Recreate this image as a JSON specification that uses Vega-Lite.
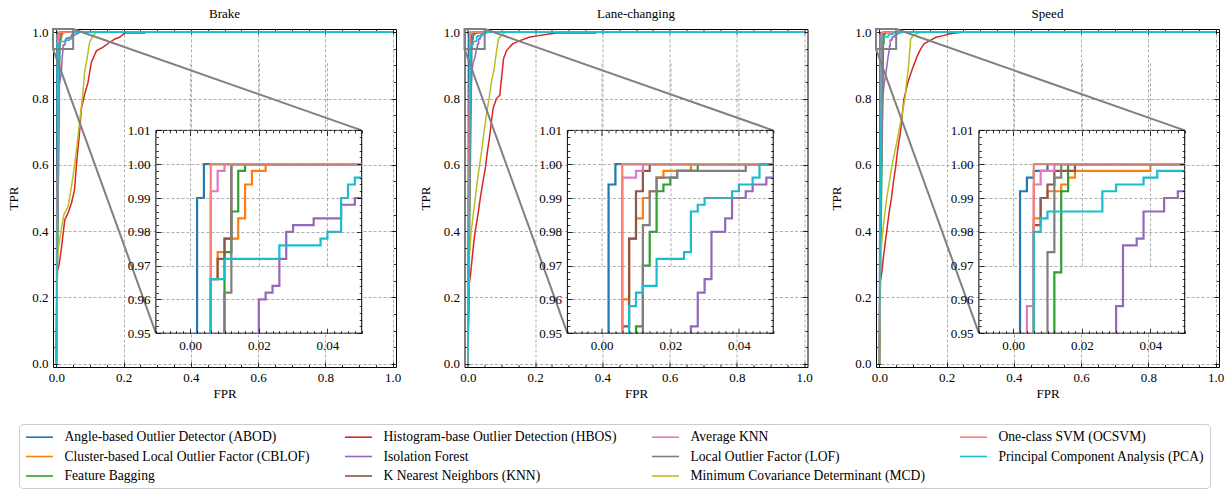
{
"$schema": "https://vega.github.io/schema/vega-lite/v6.json",
"background": "white",
"padding": {"left": 7, "top": 7, "right": 0, "bottom": 0},
"spacing": 16.5,
"config": {
  "view": {"stroke": "black", "strokeWidth": 1},
  "font": "Liberation Serif",
  "axis": {"labelFont": "Liberation Serif", "titleFont": "Liberation Serif", "labelFontSize": 13, "titleFontSize": 13, "titleFontWeight": "normal", "labelColor": "black", "titleColor": "black", "tickColor": "black", "tickWidth": 0.8, "domain": false, "labelOverlap": false, "labelFlush": false, "labelBound": false, "gridDash": [3, 2], "gridColor": "#8c8c8c", "gridWidth": 0.7},
  "title": {"font": "Liberation Serif", "fontSize": 13, "fontWeight": "normal", "color": "black", "offset": 5},
  "legend": {"orient": "none", "legendX": -34, "legendY": 395, "columns": 4, "direction": "vertical", "symbolType": "M-1.93,0H1.93", "symbolSize": 196, "symbolStrokeWidth": 1.6, "symbolFillColor": "transparent", "symbolOffset": 7.5, "labelFont": "Liberation Serif", "labelFontSize": 13.6, "labelColor": "black", "labelLimit": 600, "labelOffset": 17, "columnPadding": 31, "rowPadding": 4.5, "strokeColor": "#cccccc", "fillColor": "white", "cornerRadius": 4, "padding": 5}
},
"datasets": {
  "methods": [
    {"m": "ABOD", "name": "Angle-based Outlier Detector (ABOD)"},
    {"m": "CBLOF", "name": "Cluster-based Local Outlier Factor (CBLOF)"},
    {"m": "FB", "name": "Feature Bagging"},
    {"m": "HBOS", "name": "Histogram-base Outlier Detection (HBOS)"},
    {"m": "IF", "name": "Isolation Forest"},
    {"m": "KNN", "name": "K Nearest Neighbors (KNN)"},
    {"m": "AKNN", "name": "Average KNN"},
    {"m": "LOF", "name": "Local Outlier Factor (LOF)"},
    {"m": "MCD", "name": "Minimum Covariance Determinant (MCD)"},
    {"m": "OCSVM", "name": "One-class SVM (OCSVM)"},
    {"m": "PCA", "name": "Principal Component Analysis (PCA)"}
  ],
  "box": [{"x0": -0.01, "x1": 0.05, "y0": 0.95, "y1": 1.01}],
  "conn": [{"x0": 0.05, "y0": 1.01, "x1": 0.908, "y1": 0.704}, {"x0": -0.01, "y0": 0.95, "x1": 0.296, "y1": 0.092}],
  "roc": [
{"p":"B","m":"ABOD","x":0,"y":0},{"p":"B","m":"ABOD","x":0.002,"y":0.95},{"p":"B","m":"ABOD","x":0.002,"y":0.99},{"p":"B","m":"ABOD","x":0.004,"y":0.99},{"p":"B","m":"ABOD","x":0.004,"y":1},{"p":"B","m":"ABOD","x":0.05,"y":1},{"p":"B","m":"ABOD","x":1,"y":1},
{"p":"B","m":"CBLOF","x":0,"y":0},{"p":"B","m":"CBLOF","x":0.006,"y":0.95},{"p":"B","m":"CBLOF","x":0.006,"y":0.966},{"p":"B","m":"CBLOF","x":0.008,"y":0.966},{"p":"B","m":"CBLOF","x":0.008,"y":0.974},{"p":"B","m":"CBLOF","x":0.01,"y":0.974},{"p":"B","m":"CBLOF","x":0.01,"y":0.978},{"p":"B","m":"CBLOF","x":0.014,"y":0.978},{"p":"B","m":"CBLOF","x":0.014,"y":0.984},{"p":"B","m":"CBLOF","x":0.016,"y":0.984},{"p":"B","m":"CBLOF","x":0.016,"y":0.994},{"p":"B","m":"CBLOF","x":0.018,"y":0.994},{"p":"B","m":"CBLOF","x":0.018,"y":0.998},{"p":"B","m":"CBLOF","x":0.022,"y":0.998},{"p":"B","m":"CBLOF","x":0.022,"y":1},{"p":"B","m":"CBLOF","x":0.05,"y":1},{"p":"B","m":"CBLOF","x":1,"y":1},
{"p":"B","m":"FB","x":0,"y":0},{"p":"B","m":"FB","x":0.01,"y":0.95},{"p":"B","m":"FB","x":0.01,"y":0.974},{"p":"B","m":"FB","x":0.012,"y":0.974},{"p":"B","m":"FB","x":0.012,"y":0.986},{"p":"B","m":"FB","x":0.014,"y":0.986},{"p":"B","m":"FB","x":0.014,"y":0.998},{"p":"B","m":"FB","x":0.016,"y":0.998},{"p":"B","m":"FB","x":0.016,"y":1},{"p":"B","m":"FB","x":0.05,"y":1},{"p":"B","m":"FB","x":1,"y":1},
{"p":"B","m":"HBOS","x":0,"y":0},{"p":"B","m":"HBOS","x":0.003,"y":0.28},{"p":"B","m":"HBOS","x":0.008,"y":0.298},{"p":"B","m":"HBOS","x":0.015,"y":0.348},{"p":"B","m":"HBOS","x":0.025,"y":0.434},{"p":"B","m":"HBOS","x":0.035,"y":0.455},{"p":"B","m":"HBOS","x":0.045,"y":0.485},{"p":"B","m":"HBOS","x":0.054,"y":0.525},{"p":"B","m":"HBOS","x":0.061,"y":0.616},{"p":"B","m":"HBOS","x":0.069,"y":0.697},{"p":"B","m":"HBOS","x":0.074,"y":0.768},{"p":"B","m":"HBOS","x":0.084,"y":0.813},{"p":"B","m":"HBOS","x":0.094,"y":0.848},{"p":"B","m":"HBOS","x":0.104,"y":0.909},{"p":"B","m":"HBOS","x":0.119,"y":0.944},{"p":"B","m":"HBOS","x":0.139,"y":0.955},{"p":"B","m":"HBOS","x":0.159,"y":0.97},{"p":"B","m":"HBOS","x":0.174,"y":0.98},{"p":"B","m":"HBOS","x":0.188,"y":0.985},{"p":"B","m":"HBOS","x":0.203,"y":0.998},{"p":"B","m":"HBOS","x":0.263,"y":0.998},{"p":"B","m":"HBOS","x":0.263,"y":1},{"p":"B","m":"HBOS","x":1,"y":1},
{"p":"B","m":"IF","x":0,"y":0},{"p":"B","m":"IF","x":0.004,"y":0.6},{"p":"B","m":"IF","x":0.008,"y":0.84},{"p":"B","m":"IF","x":0.012,"y":0.86},{"p":"B","m":"IF","x":0.015,"y":0.88},{"p":"B","m":"IF","x":0.017,"y":0.92},{"p":"B","m":"IF","x":0.02,"y":0.95},{"p":"B","m":"IF","x":0.02,"y":0.96},{"p":"B","m":"IF","x":0.022,"y":0.96},{"p":"B","m":"IF","x":0.022,"y":0.962},{"p":"B","m":"IF","x":0.024,"y":0.962},{"p":"B","m":"IF","x":0.024,"y":0.964},{"p":"B","m":"IF","x":0.026,"y":0.964},{"p":"B","m":"IF","x":0.026,"y":0.972},{"p":"B","m":"IF","x":0.028,"y":0.972},{"p":"B","m":"IF","x":0.028,"y":0.98},{"p":"B","m":"IF","x":0.03,"y":0.98},{"p":"B","m":"IF","x":0.03,"y":0.982},{"p":"B","m":"IF","x":0.036,"y":0.982},{"p":"B","m":"IF","x":0.036,"y":0.984},{"p":"B","m":"IF","x":0.044,"y":0.984},{"p":"B","m":"IF","x":0.044,"y":0.988},{"p":"B","m":"IF","x":0.048,"y":0.988},{"p":"B","m":"IF","x":0.048,"y":0.99},{"p":"B","m":"IF","x":0.05,"y":0.99},{"p":"B","m":"IF","x":0.06,"y":0.995},{"p":"B","m":"IF","x":0.07,"y":1},{"p":"B","m":"IF","x":1,"y":1},
{"p":"B","m":"KNN","x":0,"y":0},{"p":"B","m":"KNN","x":0.006,"y":0.95},{"p":"B","m":"KNN","x":0.006,"y":0.966},{"p":"B","m":"KNN","x":0.008,"y":0.966},{"p":"B","m":"KNN","x":0.008,"y":0.972},{"p":"B","m":"KNN","x":0.01,"y":0.972},{"p":"B","m":"KNN","x":0.01,"y":0.978},{"p":"B","m":"KNN","x":0.012,"y":0.978},{"p":"B","m":"KNN","x":0.012,"y":1},{"p":"B","m":"KNN","x":0.05,"y":1},{"p":"B","m":"KNN","x":1,"y":1},
{"p":"B","m":"AKNN","x":0,"y":0},{"p":"B","m":"AKNN","x":0.006,"y":0.95},{"p":"B","m":"AKNN","x":0.006,"y":0.992},{"p":"B","m":"AKNN","x":0.008,"y":0.992},{"p":"B","m":"AKNN","x":0.008,"y":0.998},{"p":"B","m":"AKNN","x":0.01,"y":0.998},{"p":"B","m":"AKNN","x":0.01,"y":1},{"p":"B","m":"AKNN","x":0.05,"y":1},{"p":"B","m":"AKNN","x":1,"y":1},
{"p":"B","m":"LOF","x":0,"y":0},{"p":"B","m":"LOF","x":0.01,"y":0.95},{"p":"B","m":"LOF","x":0.01,"y":0.962},{"p":"B","m":"LOF","x":0.012,"y":0.962},{"p":"B","m":"LOF","x":0.012,"y":1},{"p":"B","m":"LOF","x":0.05,"y":1},{"p":"B","m":"LOF","x":1,"y":1},
{"p":"B","m":"MCD","x":0,"y":0},{"p":"B","m":"MCD","x":0.003,"y":0.33},{"p":"B","m":"MCD","x":0.005,"y":0.343},{"p":"B","m":"MCD","x":0.013,"y":0.394},{"p":"B","m":"MCD","x":0.022,"y":0.449},{"p":"B","m":"MCD","x":0.035,"y":0.475},{"p":"B","m":"MCD","x":0.045,"y":0.535},{"p":"B","m":"MCD","x":0.054,"y":0.596},{"p":"B","m":"MCD","x":0.061,"y":0.656},{"p":"B","m":"MCD","x":0.069,"y":0.727},{"p":"B","m":"MCD","x":0.077,"y":0.798},{"p":"B","m":"MCD","x":0.084,"y":0.879},{"p":"B","m":"MCD","x":0.091,"y":0.919},{"p":"B","m":"MCD","x":0.099,"y":0.97},{"p":"B","m":"MCD","x":0.109,"y":0.99},{"p":"B","m":"MCD","x":0.119,"y":1},{"p":"B","m":"MCD","x":1,"y":1},
{"p":"B","m":"OCSVM","x":0,"y":0},{"p":"B","m":"OCSVM","x":0.006,"y":0.95},{"p":"B","m":"OCSVM","x":0.006,"y":1},{"p":"B","m":"OCSVM","x":0.05,"y":1},{"p":"B","m":"OCSVM","x":1,"y":1},
{"p":"B","m":"PCA","x":0,"y":0},{"p":"B","m":"PCA","x":0.006,"y":0.95},{"p":"B","m":"PCA","x":0.006,"y":0.966},{"p":"B","m":"PCA","x":0.01,"y":0.966},{"p":"B","m":"PCA","x":0.01,"y":0.972},{"p":"B","m":"PCA","x":0.026,"y":0.972},{"p":"B","m":"PCA","x":0.026,"y":0.976},{"p":"B","m":"PCA","x":0.038,"y":0.976},{"p":"B","m":"PCA","x":0.038,"y":0.978},{"p":"B","m":"PCA","x":0.04,"y":0.978},{"p":"B","m":"PCA","x":0.04,"y":0.98},{"p":"B","m":"PCA","x":0.044,"y":0.98},{"p":"B","m":"PCA","x":0.044,"y":0.99},{"p":"B","m":"PCA","x":0.046,"y":0.99},{"p":"B","m":"PCA","x":0.046,"y":0.994},{"p":"B","m":"PCA","x":0.048,"y":0.994},{"p":"B","m":"PCA","x":0.048,"y":0.996},{"p":"B","m":"PCA","x":0.05,"y":0.996},{"p":"B","m":"PCA","x":0.055,"y":1},{"p":"B","m":"PCA","x":1,"y":1},

{"p":"L","m":"ABOD","x":0,"y":0},{"p":"L","m":"ABOD","x":0.002,"y":0.95},{"p":"L","m":"ABOD","x":0.002,"y":0.994},{"p":"L","m":"ABOD","x":0.004,"y":0.994},{"p":"L","m":"ABOD","x":0.004,"y":1},{"p":"L","m":"ABOD","x":0.05,"y":1},{"p":"L","m":"ABOD","x":1,"y":1},
{"p":"L","m":"CBLOF","x":0,"y":0},{"p":"L","m":"CBLOF","x":0.006,"y":0.95},{"p":"L","m":"CBLOF","x":0.006,"y":0.96},{"p":"L","m":"CBLOF","x":0.008,"y":0.96},{"p":"L","m":"CBLOF","x":0.008,"y":0.978},{"p":"L","m":"CBLOF","x":0.01,"y":0.978},{"p":"L","m":"CBLOF","x":0.01,"y":0.984},{"p":"L","m":"CBLOF","x":0.012,"y":0.984},{"p":"L","m":"CBLOF","x":0.012,"y":0.99},{"p":"L","m":"CBLOF","x":0.014,"y":0.99},{"p":"L","m":"CBLOF","x":0.014,"y":0.992},{"p":"L","m":"CBLOF","x":0.016,"y":0.992},{"p":"L","m":"CBLOF","x":0.016,"y":0.996},{"p":"L","m":"CBLOF","x":0.018,"y":0.996},{"p":"L","m":"CBLOF","x":0.018,"y":0.998},{"p":"L","m":"CBLOF","x":0.026,"y":0.998},{"p":"L","m":"CBLOF","x":0.026,"y":1},{"p":"L","m":"CBLOF","x":0.05,"y":1},{"p":"L","m":"CBLOF","x":1,"y":1},
{"p":"L","m":"FB","x":0,"y":0},{"p":"L","m":"FB","x":0.01,"y":0.95},{"p":"L","m":"FB","x":0.01,"y":0.952},{"p":"L","m":"FB","x":0.012,"y":0.952},{"p":"L","m":"FB","x":0.012,"y":0.97},{"p":"L","m":"FB","x":0.014,"y":0.97},{"p":"L","m":"FB","x":0.014,"y":0.98},{"p":"L","m":"FB","x":0.016,"y":0.98},{"p":"L","m":"FB","x":0.016,"y":0.992},{"p":"L","m":"FB","x":0.018,"y":0.992},{"p":"L","m":"FB","x":0.018,"y":0.994},{"p":"L","m":"FB","x":0.02,"y":0.994},{"p":"L","m":"FB","x":0.02,"y":0.996},{"p":"L","m":"FB","x":0.022,"y":0.996},{"p":"L","m":"FB","x":0.022,"y":0.998},{"p":"L","m":"FB","x":0.028,"y":0.998},{"p":"L","m":"FB","x":0.028,"y":1},{"p":"L","m":"FB","x":0.05,"y":1},{"p":"L","m":"FB","x":1,"y":1},
{"p":"L","m":"HBOS","x":0,"y":0},{"p":"L","m":"HBOS","x":0.004,"y":0.24},{"p":"L","m":"HBOS","x":0.008,"y":0.27},{"p":"L","m":"HBOS","x":0.012,"y":0.31},{"p":"L","m":"HBOS","x":0.018,"y":0.37},{"p":"L","m":"HBOS","x":0.022,"y":0.4},{"p":"L","m":"HBOS","x":0.03,"y":0.45},{"p":"L","m":"HBOS","x":0.037,"y":0.5},{"p":"L","m":"HBOS","x":0.045,"y":0.55},{"p":"L","m":"HBOS","x":0.052,"y":0.59},{"p":"L","m":"HBOS","x":0.058,"y":0.64},{"p":"L","m":"HBOS","x":0.064,"y":0.68},{"p":"L","m":"HBOS","x":0.07,"y":0.73},{"p":"L","m":"HBOS","x":0.075,"y":0.77},{"p":"L","m":"HBOS","x":0.085,"y":0.8},{"p":"L","m":"HBOS","x":0.095,"y":0.81},{"p":"L","m":"HBOS","x":0.1,"y":0.86},{"p":"L","m":"HBOS","x":0.106,"y":0.92},{"p":"L","m":"HBOS","x":0.115,"y":0.945},{"p":"L","m":"HBOS","x":0.133,"y":0.965},{"p":"L","m":"HBOS","x":0.155,"y":0.975},{"p":"L","m":"HBOS","x":0.182,"y":0.985},{"p":"L","m":"HBOS","x":0.21,"y":0.99},{"p":"L","m":"HBOS","x":0.242,"y":0.995},{"p":"L","m":"HBOS","x":0.262,"y":0.998},{"p":"L","m":"HBOS","x":0.38,"y":0.998},{"p":"L","m":"HBOS","x":0.38,"y":1},{"p":"L","m":"HBOS","x":1,"y":1},
{"p":"L","m":"IF","x":0,"y":0},{"p":"L","m":"IF","x":0.004,"y":0.5},{"p":"L","m":"IF","x":0.008,"y":0.8},{"p":"L","m":"IF","x":0.012,"y":0.88},{"p":"L","m":"IF","x":0.016,"y":0.91},{"p":"L","m":"IF","x":0.02,"y":0.92},{"p":"L","m":"IF","x":0.024,"y":0.94},{"p":"L","m":"IF","x":0.026,"y":0.95},{"p":"L","m":"IF","x":0.026,"y":0.952},{"p":"L","m":"IF","x":0.028,"y":0.952},{"p":"L","m":"IF","x":0.028,"y":0.962},{"p":"L","m":"IF","x":0.03,"y":0.962},{"p":"L","m":"IF","x":0.03,"y":0.966},{"p":"L","m":"IF","x":0.032,"y":0.966},{"p":"L","m":"IF","x":0.032,"y":0.98},{"p":"L","m":"IF","x":0.036,"y":0.98},{"p":"L","m":"IF","x":0.036,"y":0.984},{"p":"L","m":"IF","x":0.038,"y":0.984},{"p":"L","m":"IF","x":0.038,"y":0.99},{"p":"L","m":"IF","x":0.042,"y":0.99},{"p":"L","m":"IF","x":0.042,"y":0.992},{"p":"L","m":"IF","x":0.044,"y":0.992},{"p":"L","m":"IF","x":0.044,"y":0.994},{"p":"L","m":"IF","x":0.048,"y":0.994},{"p":"L","m":"IF","x":0.048,"y":0.996},{"p":"L","m":"IF","x":0.05,"y":0.996},{"p":"L","m":"IF","x":0.06,"y":1},{"p":"L","m":"IF","x":1,"y":1},
{"p":"L","m":"KNN","x":0,"y":0},{"p":"L","m":"KNN","x":0.006,"y":0.95},{"p":"L","m":"KNN","x":0.006,"y":0.952},{"p":"L","m":"KNN","x":0.008,"y":0.952},{"p":"L","m":"KNN","x":0.008,"y":0.978},{"p":"L","m":"KNN","x":0.01,"y":0.978},{"p":"L","m":"KNN","x":0.01,"y":0.992},{"p":"L","m":"KNN","x":0.012,"y":0.992},{"p":"L","m":"KNN","x":0.012,"y":0.998},{"p":"L","m":"KNN","x":0.014,"y":0.998},{"p":"L","m":"KNN","x":0.014,"y":1},{"p":"L","m":"KNN","x":0.05,"y":1},{"p":"L","m":"KNN","x":1,"y":1},
{"p":"L","m":"AKNN","x":0,"y":0},{"p":"L","m":"AKNN","x":0.006,"y":0.95},{"p":"L","m":"AKNN","x":0.006,"y":0.996},{"p":"L","m":"AKNN","x":0.01,"y":0.996},{"p":"L","m":"AKNN","x":0.01,"y":0.998},{"p":"L","m":"AKNN","x":0.012,"y":0.998},{"p":"L","m":"AKNN","x":0.012,"y":1},{"p":"L","m":"AKNN","x":0.05,"y":1},{"p":"L","m":"AKNN","x":1,"y":1},
{"p":"L","m":"LOF","x":0,"y":0},{"p":"L","m":"LOF","x":0.012,"y":0.95},{"p":"L","m":"LOF","x":0.012,"y":0.982},{"p":"L","m":"LOF","x":0.014,"y":0.982},{"p":"L","m":"LOF","x":0.014,"y":0.992},{"p":"L","m":"LOF","x":0.016,"y":0.992},{"p":"L","m":"LOF","x":0.016,"y":0.996},{"p":"L","m":"LOF","x":0.022,"y":0.996},{"p":"L","m":"LOF","x":0.022,"y":0.998},{"p":"L","m":"LOF","x":0.042,"y":0.998},{"p":"L","m":"LOF","x":0.042,"y":1},{"p":"L","m":"LOF","x":0.05,"y":1},{"p":"L","m":"LOF","x":1,"y":1},
{"p":"L","m":"MCD","x":0,"y":0},{"p":"L","m":"MCD","x":0.003,"y":0.32},{"p":"L","m":"MCD","x":0.006,"y":0.34},{"p":"L","m":"MCD","x":0.01,"y":0.4},{"p":"L","m":"MCD","x":0.016,"y":0.45},{"p":"L","m":"MCD","x":0.022,"y":0.5},{"p":"L","m":"MCD","x":0.028,"y":0.55},{"p":"L","m":"MCD","x":0.035,"y":0.6},{"p":"L","m":"MCD","x":0.042,"y":0.65},{"p":"L","m":"MCD","x":0.048,"y":0.7},{"p":"L","m":"MCD","x":0.055,"y":0.75},{"p":"L","m":"MCD","x":0.063,"y":0.8},{"p":"L","m":"MCD","x":0.07,"y":0.85},{"p":"L","m":"MCD","x":0.078,"y":0.889},{"p":"L","m":"MCD","x":0.085,"y":0.94},{"p":"L","m":"MCD","x":0.091,"y":0.98},{"p":"L","m":"MCD","x":0.1,"y":0.99},{"p":"L","m":"MCD","x":0.108,"y":0.998},{"p":"L","m":"MCD","x":0.115,"y":1},{"p":"L","m":"MCD","x":1,"y":1},
{"p":"L","m":"OCSVM","x":0,"y":0},{"p":"L","m":"OCSVM","x":0.006,"y":0.95},{"p":"L","m":"OCSVM","x":0.006,"y":1},{"p":"L","m":"OCSVM","x":0.05,"y":1},{"p":"L","m":"OCSVM","x":1,"y":1},
{"p":"L","m":"PCA","x":0,"y":0},{"p":"L","m":"PCA","x":0.008,"y":0.95},{"p":"L","m":"PCA","x":0.008,"y":0.958},{"p":"L","m":"PCA","x":0.01,"y":0.958},{"p":"L","m":"PCA","x":0.01,"y":0.962},{"p":"L","m":"PCA","x":0.012,"y":0.962},{"p":"L","m":"PCA","x":0.012,"y":0.964},{"p":"L","m":"PCA","x":0.016,"y":0.964},{"p":"L","m":"PCA","x":0.016,"y":0.972},{"p":"L","m":"PCA","x":0.024,"y":0.972},{"p":"L","m":"PCA","x":0.024,"y":0.974},{"p":"L","m":"PCA","x":0.026,"y":0.974},{"p":"L","m":"PCA","x":0.026,"y":0.986},{"p":"L","m":"PCA","x":0.028,"y":0.986},{"p":"L","m":"PCA","x":0.028,"y":0.988},{"p":"L","m":"PCA","x":0.03,"y":0.988},{"p":"L","m":"PCA","x":0.03,"y":0.99},{"p":"L","m":"PCA","x":0.038,"y":0.99},{"p":"L","m":"PCA","x":0.038,"y":0.992},{"p":"L","m":"PCA","x":0.04,"y":0.992},{"p":"L","m":"PCA","x":0.04,"y":0.994},{"p":"L","m":"PCA","x":0.044,"y":0.994},{"p":"L","m":"PCA","x":0.044,"y":0.996},{"p":"L","m":"PCA","x":0.046,"y":0.996},{"p":"L","m":"PCA","x":0.046,"y":1},{"p":"L","m":"PCA","x":0.05,"y":1},{"p":"L","m":"PCA","x":1,"y":1},

{"p":"S","m":"ABOD","x":0,"y":0},{"p":"S","m":"ABOD","x":0.002,"y":0.95},{"p":"S","m":"ABOD","x":0.002,"y":0.992},{"p":"S","m":"ABOD","x":0.004,"y":0.992},{"p":"S","m":"ABOD","x":0.004,"y":0.996},{"p":"S","m":"ABOD","x":0.006,"y":0.996},{"p":"S","m":"ABOD","x":0.006,"y":0.998},{"p":"S","m":"ABOD","x":0.01,"y":0.998},{"p":"S","m":"ABOD","x":0.01,"y":1},{"p":"S","m":"ABOD","x":0.05,"y":1},{"p":"S","m":"ABOD","x":1,"y":1},
{"p":"S","m":"CBLOF","x":0,"y":0},{"p":"S","m":"CBLOF","x":0.006,"y":0.95},{"p":"S","m":"CBLOF","x":0.006,"y":0.984},{"p":"S","m":"CBLOF","x":0.008,"y":0.984},{"p":"S","m":"CBLOF","x":0.008,"y":0.99},{"p":"S","m":"CBLOF","x":0.01,"y":0.99},{"p":"S","m":"CBLOF","x":0.01,"y":0.992},{"p":"S","m":"CBLOF","x":0.014,"y":0.992},{"p":"S","m":"CBLOF","x":0.014,"y":0.994},{"p":"S","m":"CBLOF","x":0.016,"y":0.994},{"p":"S","m":"CBLOF","x":0.016,"y":0.996},{"p":"S","m":"CBLOF","x":0.018,"y":0.996},{"p":"S","m":"CBLOF","x":0.018,"y":0.998},{"p":"S","m":"CBLOF","x":0.04,"y":0.998},{"p":"S","m":"CBLOF","x":0.04,"y":1},{"p":"S","m":"CBLOF","x":0.05,"y":1},{"p":"S","m":"CBLOF","x":1,"y":1},
{"p":"S","m":"FB","x":0,"y":0},{"p":"S","m":"FB","x":0.012,"y":0.95},{"p":"S","m":"FB","x":0.012,"y":0.968},{"p":"S","m":"FB","x":0.014,"y":0.968},{"p":"S","m":"FB","x":0.014,"y":0.992},{"p":"S","m":"FB","x":0.016,"y":0.992},{"p":"S","m":"FB","x":0.016,"y":1},{"p":"S","m":"FB","x":0.05,"y":1},{"p":"S","m":"FB","x":1,"y":1},
{"p":"S","m":"HBOS","x":0,"y":0},{"p":"S","m":"HBOS","x":0.003,"y":0.25},{"p":"S","m":"HBOS","x":0.008,"y":0.28},{"p":"S","m":"HBOS","x":0.012,"y":0.32},{"p":"S","m":"HBOS","x":0.018,"y":0.37},{"p":"S","m":"HBOS","x":0.022,"y":0.4},{"p":"S","m":"HBOS","x":0.028,"y":0.45},{"p":"S","m":"HBOS","x":0.036,"y":0.5},{"p":"S","m":"HBOS","x":0.042,"y":0.55},{"p":"S","m":"HBOS","x":0.048,"y":0.59},{"p":"S","m":"HBOS","x":0.055,"y":0.65},{"p":"S","m":"HBOS","x":0.063,"y":0.7},{"p":"S","m":"HBOS","x":0.068,"y":0.75},{"p":"S","m":"HBOS","x":0.073,"y":0.798},{"p":"S","m":"HBOS","x":0.085,"y":0.85},{"p":"S","m":"HBOS","x":0.098,"y":0.889},{"p":"S","m":"HBOS","x":0.113,"y":0.929},{"p":"S","m":"HBOS","x":0.123,"y":0.95},{"p":"S","m":"HBOS","x":0.133,"y":0.965},{"p":"S","m":"HBOS","x":0.15,"y":0.975},{"p":"S","m":"HBOS","x":0.168,"y":0.985},{"p":"S","m":"HBOS","x":0.19,"y":0.99},{"p":"S","m":"HBOS","x":0.207,"y":0.995},{"p":"S","m":"HBOS","x":0.225,"y":0.998},{"p":"S","m":"HBOS","x":0.247,"y":1},{"p":"S","m":"HBOS","x":1,"y":1},
{"p":"S","m":"IF","x":0,"y":0},{"p":"S","m":"IF","x":0.004,"y":0.5},{"p":"S","m":"IF","x":0.01,"y":0.8},{"p":"S","m":"IF","x":0.015,"y":0.85},{"p":"S","m":"IF","x":0.02,"y":0.88},{"p":"S","m":"IF","x":0.025,"y":0.92},{"p":"S","m":"IF","x":0.03,"y":0.95},{"p":"S","m":"IF","x":0.03,"y":0.958},{"p":"S","m":"IF","x":0.032,"y":0.958},{"p":"S","m":"IF","x":0.032,"y":0.976},{"p":"S","m":"IF","x":0.036,"y":0.976},{"p":"S","m":"IF","x":0.036,"y":0.978},{"p":"S","m":"IF","x":0.038,"y":0.978},{"p":"S","m":"IF","x":0.038,"y":0.986},{"p":"S","m":"IF","x":0.044,"y":0.986},{"p":"S","m":"IF","x":0.044,"y":0.99},{"p":"S","m":"IF","x":0.048,"y":0.99},{"p":"S","m":"IF","x":0.048,"y":0.992},{"p":"S","m":"IF","x":0.05,"y":0.992},{"p":"S","m":"IF","x":0.06,"y":0.998},{"p":"S","m":"IF","x":0.07,"y":1},{"p":"S","m":"IF","x":1,"y":1},
{"p":"S","m":"KNN","x":0,"y":0},{"p":"S","m":"KNN","x":0.006,"y":0.95},{"p":"S","m":"KNN","x":0.006,"y":0.982},{"p":"S","m":"KNN","x":0.008,"y":0.982},{"p":"S","m":"KNN","x":0.008,"y":0.99},{"p":"S","m":"KNN","x":0.01,"y":0.99},{"p":"S","m":"KNN","x":0.01,"y":0.994},{"p":"S","m":"KNN","x":0.012,"y":0.994},{"p":"S","m":"KNN","x":0.012,"y":0.998},{"p":"S","m":"KNN","x":0.018,"y":0.998},{"p":"S","m":"KNN","x":0.018,"y":1},{"p":"S","m":"KNN","x":0.05,"y":1},{"p":"S","m":"KNN","x":1,"y":1},
{"p":"S","m":"AKNN","x":0,"y":0},{"p":"S","m":"AKNN","x":0.004,"y":0.95},{"p":"S","m":"AKNN","x":0.004,"y":0.958},{"p":"S","m":"AKNN","x":0.006,"y":0.958},{"p":"S","m":"AKNN","x":0.006,"y":0.994},{"p":"S","m":"AKNN","x":0.008,"y":0.994},{"p":"S","m":"AKNN","x":0.008,"y":0.998},{"p":"S","m":"AKNN","x":0.012,"y":0.998},{"p":"S","m":"AKNN","x":0.012,"y":1},{"p":"S","m":"AKNN","x":0.05,"y":1},{"p":"S","m":"AKNN","x":1,"y":1},
{"p":"S","m":"LOF","x":0,"y":0},{"p":"S","m":"LOF","x":0.01,"y":0.95},{"p":"S","m":"LOF","x":0.01,"y":0.974},{"p":"S","m":"LOF","x":0.012,"y":0.974},{"p":"S","m":"LOF","x":0.012,"y":0.996},{"p":"S","m":"LOF","x":0.014,"y":0.996},{"p":"S","m":"LOF","x":0.014,"y":1},{"p":"S","m":"LOF","x":0.05,"y":1},{"p":"S","m":"LOF","x":1,"y":1},
{"p":"S","m":"MCD","x":0,"y":0},{"p":"S","m":"MCD","x":0.003,"y":0.33},{"p":"S","m":"MCD","x":0.006,"y":0.35},{"p":"S","m":"MCD","x":0.01,"y":0.4},{"p":"S","m":"MCD","x":0.016,"y":0.45},{"p":"S","m":"MCD","x":0.022,"y":0.5},{"p":"S","m":"MCD","x":0.03,"y":0.55},{"p":"S","m":"MCD","x":0.038,"y":0.6},{"p":"S","m":"MCD","x":0.048,"y":0.65},{"p":"S","m":"MCD","x":0.058,"y":0.7},{"p":"S","m":"MCD","x":0.067,"y":0.75},{"p":"S","m":"MCD","x":0.076,"y":0.798},{"p":"S","m":"MCD","x":0.081,"y":0.85},{"p":"S","m":"MCD","x":0.086,"y":0.889},{"p":"S","m":"MCD","x":0.09,"y":0.94},{"p":"S","m":"MCD","x":0.093,"y":0.98},{"p":"S","m":"MCD","x":0.1,"y":0.99},{"p":"S","m":"MCD","x":0.108,"y":0.995},{"p":"S","m":"MCD","x":0.123,"y":1},{"p":"S","m":"MCD","x":1,"y":1},
{"p":"S","m":"OCSVM","x":0,"y":0},{"p":"S","m":"OCSVM","x":0.006,"y":0.95},{"p":"S","m":"OCSVM","x":0.006,"y":1},{"p":"S","m":"OCSVM","x":0.05,"y":1},{"p":"S","m":"OCSVM","x":1,"y":1},
{"p":"S","m":"PCA","x":0,"y":0},{"p":"S","m":"PCA","x":0.006,"y":0.95},{"p":"S","m":"PCA","x":0.006,"y":0.98},{"p":"S","m":"PCA","x":0.008,"y":0.98},{"p":"S","m":"PCA","x":0.008,"y":0.984},{"p":"S","m":"PCA","x":0.01,"y":0.984},{"p":"S","m":"PCA","x":0.01,"y":0.986},{"p":"S","m":"PCA","x":0.026,"y":0.986},{"p":"S","m":"PCA","x":0.026,"y":0.992},{"p":"S","m":"PCA","x":0.03,"y":0.992},{"p":"S","m":"PCA","x":0.03,"y":0.994},{"p":"S","m":"PCA","x":0.038,"y":0.994},{"p":"S","m":"PCA","x":0.038,"y":0.996},{"p":"S","m":"PCA","x":0.042,"y":0.996},{"p":"S","m":"PCA","x":0.042,"y":0.998},{"p":"S","m":"PCA","x":0.05,"y":0.998},{"p":"S","m":"PCA","x":0.06,"y":1},{"p":"S","m":"PCA","x":1,"y":1}
  ]
},
"hconcat": [
{
 "title": {"text": "Brake"},
 "width": 343, "height": 338,
 "resolve": {"scale": {"x": "independent", "y": "independent"}, "axis": {"x": "independent", "y": "independent"}},
 "layer": [
  {"data": {"name": "roc"},
   "transform": [{"filter": "datum.p === 'B'"}, {"lookup": "m", "from": {"data": {"name": "methods"}, "key": "m", "fields": ["name"]}}],
   "mark": {"type": "line", "strokeWidth": 1.5},
   "encoding": {
     "x": {"field": "x", "type": "quantitative", "scale": {"domain": [-0.01, 1.01], "nice": false, "zero": false},
       "axis": {"orient": "bottom", "values": [0,0.05,0.1,0.15,0.2,0.25,0.3,0.35,0.4,0.45,0.5,0.55,0.6,0.65,0.7,0.75,0.8,0.85,0.9,0.95,1], "labelExpr": "abs(datum.value*5-round(datum.value*5))<0.001 ? format(datum.value, '.1f') : ''", "tickSize": {"condition": {"test": "abs(datum.value*5-round(datum.value*5))<0.001", "value": -5}, "value": -2.5}, "grid": true, "gridOpacity": {"condition": {"test": "abs(datum.value*5-round(datum.value*5))<0.001", "value": 1}, "value": 0}, "labelPadding": 9, "title": "FPR", "titlePadding": 1}},
     "y": {"field": "y", "type": "quantitative", "scale": {"domain": [-0.01, 1.01], "nice": false, "zero": false},
       "axis": {"orient": "left", "values": [0,0.05,0.1,0.15,0.2,0.25,0.3,0.35,0.4,0.45,0.5,0.55,0.6,0.65,0.7,0.75,0.8,0.85,0.9,0.95,1], "labelExpr": "abs(datum.value*5-round(datum.value*5))<0.001 ? format(datum.value, '.1f') : ''", "tickSize": {"condition": {"test": "abs(datum.value*5-round(datum.value*5))<0.001", "value": -5}, "value": -2.5}, "grid": true, "gridOpacity": {"condition": {"test": "abs(datum.value*5-round(datum.value*5))<0.001", "value": 1}, "value": 0}, "labelPadding": 10, "title": "TPR", "titlePadding": 11}},
     "color": {"field": "name", "type": "nominal", "title": null, "scale": {"domain": ["Angle-based Outlier Detector (ABOD)", "Cluster-based Local Outlier Factor (CBLOF)", "Feature Bagging", "Histogram-base Outlier Detection (HBOS)", "Isolation Forest", "K Nearest Neighbors (KNN)", "Average KNN", "Local Outlier Factor (LOF)", "Minimum Covariance Determinant (MCD)", "One-class SVM (OCSVM)", "Principal Component Analysis (PCA)"], "range": ["#1f77b4", "#ff7f0e", "#2ca02c", "#d62728", "#9467bd", "#8c564b", "#e377c2", "#7f7f7f", "#bcbd22", "#fa8072", "#17becf"]}},
     "order": {"value": null}
   }},
  {"data": {"name": "box"},
   "mark": {"type": "rect", "fill": "white", "fillOpacity": 0, "stroke": "#808080", "strokeWidth": 2},
   "encoding": {
     "x": {"field": "x0", "type": "quantitative", "scale": {"domain": [-0.01, 1.01], "nice": false, "zero": false},
       "axis": {"orient": "top", "values": [0,0.05,0.1,0.15,0.2,0.25,0.3,0.35,0.4,0.45,0.5,0.55,0.6,0.65,0.7,0.75,0.8,0.85,0.9,0.95,1], "labels": false, "tickSize": {"condition": {"test": "abs(datum.value*5-round(datum.value*5))<0.001", "value": -5}, "value": -2.5}, "grid": false, "title": null}},
     "x2": {"field": "x1"},
     "y": {"field": "y0", "type": "quantitative", "scale": {"domain": [-0.01, 1.01], "nice": false, "zero": false},
       "axis": {"orient": "right", "values": [0,0.05,0.1,0.15,0.2,0.25,0.3,0.35,0.4,0.45,0.5,0.55,0.6,0.65,0.7,0.75,0.8,0.85,0.9,0.95,1], "labels": false, "tickSize": {"condition": {"test": "abs(datum.value*5-round(datum.value*5))<0.001", "value": -5}, "value": -2.5}, "grid": false, "title": null}},
     "y2": {"field": "y1"}
   }},
  {"data": {"name": "conn"},
   "mark": {"type": "rule", "stroke": "#808080", "strokeWidth": 2},
   "encoding": {
     "x": {"field": "x0", "type": "quantitative", "scale": {"domain": [-0.01, 1.01], "nice": false, "zero": false}, "axis": null},
     "x2": {"field": "x1"},
     "y": {"field": "y0", "type": "quantitative", "scale": {"domain": [-0.01, 1.01], "nice": false, "zero": false}, "axis": null},
     "y2": {"field": "y1"}
   }},
  {"data": {"name": "box"},
   "mark": {"type": "rect", "fill": "white", "stroke": "black", "strokeWidth": 1},
   "encoding": {
     "x": {"field": "x0", "type": "quantitative", "scale": {"domain": [-0.01, 0.05], "range": [102.9, 308.7], "nice": false, "zero": false},
       "axis": {"orient": "bottom", "offset": -33.8, "zindex": 1, "values": [-0.01,-0.008,-0.006,-0.004,-0.002,0,0.002,0.004,0.006,0.008,0.01,0.012,0.014,0.016,0.018,0.02,0.022,0.024,0.026,0.028,0.03,0.032,0.034,0.036,0.038,0.04,0.042,0.044,0.046,0.048,0.05], "labelExpr": "abs(datum.value*50-round(datum.value*50))<0.001 ? format(datum.value, '.2f') : ''", "tickSize": {"condition": {"test": "abs(datum.value*50-round(datum.value*50))<0.001", "value": -5}, "value": -2.5}, "grid": true, "gridOpacity": {"condition": {"test": "abs(datum.value*50-round(datum.value*50))<0.001", "value": 1}, "value": 0}, "labelPadding": 11, "title": null}},
     "x2": {"field": "x1"},
     "y": {"field": "y0", "type": "quantitative", "scale": {"domain": [0.95, 1.01], "range": [304.2, 101.4], "nice": false, "zero": false},
       "axis": {"orient": "left", "offset": -102.9, "zindex": 1, "values": [0.95,0.952,0.954,0.956,0.958,0.96,0.962,0.964,0.966,0.968,0.97,0.972,0.974,0.976,0.978,0.98,0.982,0.984,0.986,0.988,0.99,0.992,0.994,0.996,0.998,1,1.002,1.004,1.006,1.008,1.01], "labelExpr": "abs(datum.value*100-round(datum.value*100))<0.001 ? format(datum.value, '.2f') : ''", "tickSize": {"condition": {"test": "abs(datum.value*100-round(datum.value*100))<0.001", "value": -5}, "value": -2.5}, "grid": true, "gridOpacity": {"condition": {"test": "abs(datum.value*100-round(datum.value*100))<0.001", "value": 1}, "value": 0}, "labelPadding": 11, "title": null}},
     "y2": {"field": "y1"}
   }},
  {"data": {"name": "roc"},
   "transform": [{"filter": "datum.p === 'B' && datum.x <= 0.0501 && datum.y >= 0.9499"}, {"lookup": "m", "from": {"data": {"name": "methods"}, "key": "m", "fields": ["name"]}}],
   "mark": {"type": "line", "strokeWidth": 2.2},
   "encoding": {
     "x": {"field": "x", "type": "quantitative", "scale": {"domain": [-0.01, 0.05], "range": [102.9, 308.7], "nice": false, "zero": false},
       "axis": {"orient": "top", "offset": -101.4, "zindex": 1, "values": [-0.01,-0.008,-0.006,-0.004,-0.002,0,0.002,0.004,0.006,0.008,0.01,0.012,0.014,0.016,0.018,0.02,0.022,0.024,0.026,0.028,0.03,0.032,0.034,0.036,0.038,0.04,0.042,0.044,0.046,0.048,0.05], "labels": false, "tickSize": {"condition": {"test": "abs(datum.value*50-round(datum.value*50))<0.001", "value": -5}, "value": -2.5}, "grid": false, "title": null}},
     "y": {"field": "y", "type": "quantitative", "scale": {"domain": [0.95, 1.01], "range": [304.2, 101.4], "nice": false, "zero": false},
       "axis": {"orient": "right", "offset": -34.3, "zindex": 1, "values": [0.95,0.952,0.954,0.956,0.958,0.96,0.962,0.964,0.966,0.968,0.97,0.972,0.974,0.976,0.978,0.98,0.982,0.984,0.986,0.988,0.99,0.992,0.994,0.996,0.998,1,1.002,1.004,1.006,1.008,1.01], "labels": false, "tickSize": {"condition": {"test": "abs(datum.value*100-round(datum.value*100))<0.001", "value": -5}, "value": -2.5}, "grid": false, "title": null}},
     "color": {"field": "name", "type": "nominal", "title": null, "scale": {"domain": ["Angle-based Outlier Detector (ABOD)", "Cluster-based Local Outlier Factor (CBLOF)", "Feature Bagging", "Histogram-base Outlier Detection (HBOS)", "Isolation Forest", "K Nearest Neighbors (KNN)", "Average KNN", "Local Outlier Factor (LOF)", "Minimum Covariance Determinant (MCD)", "One-class SVM (OCSVM)", "Principal Component Analysis (PCA)"], "range": ["#1f77b4", "#ff7f0e", "#2ca02c", "#d62728", "#9467bd", "#8c564b", "#e377c2", "#7f7f7f", "#bcbd22", "#fa8072", "#17becf"]}},
     "order": {"value": null}
   }}
 ]
},
{
 "title": {"text": "Lane-changing"},
 "width": 343, "height": 338,
 "resolve": {"scale": {"x": "independent", "y": "independent"}, "axis": {"x": "independent", "y": "independent"}},
 "layer": [
  {"data": {"name": "roc"},
   "transform": [{"filter": "datum.p === 'L'"}, {"lookup": "m", "from": {"data": {"name": "methods"}, "key": "m", "fields": ["name"]}}],
   "mark": {"type": "line", "strokeWidth": 1.5},
   "encoding": {
     "x": {"field": "x", "type": "quantitative", "scale": {"domain": [-0.01, 1.01], "nice": false, "zero": false},
       "axis": {"orient": "bottom", "values": [0,0.05,0.1,0.15,0.2,0.25,0.3,0.35,0.4,0.45,0.5,0.55,0.6,0.65,0.7,0.75,0.8,0.85,0.9,0.95,1], "labelExpr": "abs(datum.value*5-round(datum.value*5))<0.001 ? format(datum.value, '.1f') : ''", "tickSize": {"condition": {"test": "abs(datum.value*5-round(datum.value*5))<0.001", "value": -5}, "value": -2.5}, "grid": true, "gridOpacity": {"condition": {"test": "abs(datum.value*5-round(datum.value*5))<0.001", "value": 1}, "value": 0}, "labelPadding": 9, "title": "FPR", "titlePadding": 1}},
     "y": {"field": "y", "type": "quantitative", "scale": {"domain": [-0.01, 1.01], "nice": false, "zero": false},
       "axis": {"orient": "left", "values": [0,0.05,0.1,0.15,0.2,0.25,0.3,0.35,0.4,0.45,0.5,0.55,0.6,0.65,0.7,0.75,0.8,0.85,0.9,0.95,1], "labelExpr": "abs(datum.value*5-round(datum.value*5))<0.001 ? format(datum.value, '.1f') : ''", "tickSize": {"condition": {"test": "abs(datum.value*5-round(datum.value*5))<0.001", "value": -5}, "value": -2.5}, "grid": true, "gridOpacity": {"condition": {"test": "abs(datum.value*5-round(datum.value*5))<0.001", "value": 1}, "value": 0}, "labelPadding": 10, "title": "TPR", "titlePadding": 11}},
     "color": {"field": "name", "type": "nominal", "title": null, "scale": {"domain": ["Angle-based Outlier Detector (ABOD)", "Cluster-based Local Outlier Factor (CBLOF)", "Feature Bagging", "Histogram-base Outlier Detection (HBOS)", "Isolation Forest", "K Nearest Neighbors (KNN)", "Average KNN", "Local Outlier Factor (LOF)", "Minimum Covariance Determinant (MCD)", "One-class SVM (OCSVM)", "Principal Component Analysis (PCA)"], "range": ["#1f77b4", "#ff7f0e", "#2ca02c", "#d62728", "#9467bd", "#8c564b", "#e377c2", "#7f7f7f", "#bcbd22", "#fa8072", "#17becf"]}},
     "order": {"value": null}
   }},
  {"data": {"name": "box"},
   "mark": {"type": "rect", "fill": "white", "fillOpacity": 0, "stroke": "#808080", "strokeWidth": 2},
   "encoding": {
     "x": {"field": "x0", "type": "quantitative", "scale": {"domain": [-0.01, 1.01], "nice": false, "zero": false},
       "axis": {"orient": "top", "values": [0,0.05,0.1,0.15,0.2,0.25,0.3,0.35,0.4,0.45,0.5,0.55,0.6,0.65,0.7,0.75,0.8,0.85,0.9,0.95,1], "labels": false, "tickSize": {"condition": {"test": "abs(datum.value*5-round(datum.value*5))<0.001", "value": -5}, "value": -2.5}, "grid": false, "title": null}},
     "x2": {"field": "x1"},
     "y": {"field": "y0", "type": "quantitative", "scale": {"domain": [-0.01, 1.01], "nice": false, "zero": false},
       "axis": {"orient": "right", "values": [0,0.05,0.1,0.15,0.2,0.25,0.3,0.35,0.4,0.45,0.5,0.55,0.6,0.65,0.7,0.75,0.8,0.85,0.9,0.95,1], "labels": false, "tickSize": {"condition": {"test": "abs(datum.value*5-round(datum.value*5))<0.001", "value": -5}, "value": -2.5}, "grid": false, "title": null}},
     "y2": {"field": "y1"}
   }},
  {"data": {"name": "conn"},
   "mark": {"type": "rule", "stroke": "#808080", "strokeWidth": 2},
   "encoding": {
     "x": {"field": "x0", "type": "quantitative", "scale": {"domain": [-0.01, 1.01], "nice": false, "zero": false}, "axis": null},
     "x2": {"field": "x1"},
     "y": {"field": "y0", "type": "quantitative", "scale": {"domain": [-0.01, 1.01], "nice": false, "zero": false}, "axis": null},
     "y2": {"field": "y1"}
   }},
  {"data": {"name": "box"},
   "mark": {"type": "rect", "fill": "white", "stroke": "black", "strokeWidth": 1},
   "encoding": {
     "x": {"field": "x0", "type": "quantitative", "scale": {"domain": [-0.01, 0.05], "range": [102.9, 308.7], "nice": false, "zero": false},
       "axis": {"orient": "bottom", "offset": -33.8, "zindex": 1, "values": [-0.01,-0.008,-0.006,-0.004,-0.002,0,0.002,0.004,0.006,0.008,0.01,0.012,0.014,0.016,0.018,0.02,0.022,0.024,0.026,0.028,0.03,0.032,0.034,0.036,0.038,0.04,0.042,0.044,0.046,0.048,0.05], "labelExpr": "abs(datum.value*50-round(datum.value*50))<0.001 ? format(datum.value, '.2f') : ''", "tickSize": {"condition": {"test": "abs(datum.value*50-round(datum.value*50))<0.001", "value": -5}, "value": -2.5}, "grid": true, "gridOpacity": {"condition": {"test": "abs(datum.value*50-round(datum.value*50))<0.001", "value": 1}, "value": 0}, "labelPadding": 11, "title": null}},
     "x2": {"field": "x1"},
     "y": {"field": "y0", "type": "quantitative", "scale": {"domain": [0.95, 1.01], "range": [304.2, 101.4], "nice": false, "zero": false},
       "axis": {"orient": "left", "offset": -102.9, "zindex": 1, "values": [0.95,0.952,0.954,0.956,0.958,0.96,0.962,0.964,0.966,0.968,0.97,0.972,0.974,0.976,0.978,0.98,0.982,0.984,0.986,0.988,0.99,0.992,0.994,0.996,0.998,1,1.002,1.004,1.006,1.008,1.01], "labelExpr": "abs(datum.value*100-round(datum.value*100))<0.001 ? format(datum.value, '.2f') : ''", "tickSize": {"condition": {"test": "abs(datum.value*100-round(datum.value*100))<0.001", "value": -5}, "value": -2.5}, "grid": true, "gridOpacity": {"condition": {"test": "abs(datum.value*100-round(datum.value*100))<0.001", "value": 1}, "value": 0}, "labelPadding": 11, "title": null}},
     "y2": {"field": "y1"}
   }},
  {"data": {"name": "roc"},
   "transform": [{"filter": "datum.p === 'L' && datum.x <= 0.0501 && datum.y >= 0.9499"}, {"lookup": "m", "from": {"data": {"name": "methods"}, "key": "m", "fields": ["name"]}}],
   "mark": {"type": "line", "strokeWidth": 2.2},
   "encoding": {
     "x": {"field": "x", "type": "quantitative", "scale": {"domain": [-0.01, 0.05], "range": [102.9, 308.7], "nice": false, "zero": false},
       "axis": {"orient": "top", "offset": -101.4, "zindex": 1, "values": [-0.01,-0.008,-0.006,-0.004,-0.002,0,0.002,0.004,0.006,0.008,0.01,0.012,0.014,0.016,0.018,0.02,0.022,0.024,0.026,0.028,0.03,0.032,0.034,0.036,0.038,0.04,0.042,0.044,0.046,0.048,0.05], "labels": false, "tickSize": {"condition": {"test": "abs(datum.value*50-round(datum.value*50))<0.001", "value": -5}, "value": -2.5}, "grid": false, "title": null}},
     "y": {"field": "y", "type": "quantitative", "scale": {"domain": [0.95, 1.01], "range": [304.2, 101.4], "nice": false, "zero": false},
       "axis": {"orient": "right", "offset": -34.3, "zindex": 1, "values": [0.95,0.952,0.954,0.956,0.958,0.96,0.962,0.964,0.966,0.968,0.97,0.972,0.974,0.976,0.978,0.98,0.982,0.984,0.986,0.988,0.99,0.992,0.994,0.996,0.998,1,1.002,1.004,1.006,1.008,1.01], "labels": false, "tickSize": {"condition": {"test": "abs(datum.value*100-round(datum.value*100))<0.001", "value": -5}, "value": -2.5}, "grid": false, "title": null}},
     "color": {"field": "name", "type": "nominal", "title": null, "scale": {"domain": ["Angle-based Outlier Detector (ABOD)", "Cluster-based Local Outlier Factor (CBLOF)", "Feature Bagging", "Histogram-base Outlier Detection (HBOS)", "Isolation Forest", "K Nearest Neighbors (KNN)", "Average KNN", "Local Outlier Factor (LOF)", "Minimum Covariance Determinant (MCD)", "One-class SVM (OCSVM)", "Principal Component Analysis (PCA)"], "range": ["#1f77b4", "#ff7f0e", "#2ca02c", "#d62728", "#9467bd", "#8c564b", "#e377c2", "#7f7f7f", "#bcbd22", "#fa8072", "#17becf"]}},
     "order": {"value": null}
   }}
 ]
},
{
 "title": {"text": "Speed"},
 "width": 343, "height": 338,
 "resolve": {"scale": {"x": "independent", "y": "independent"}, "axis": {"x": "independent", "y": "independent"}},
 "layer": [
  {"data": {"name": "roc"},
   "transform": [{"filter": "datum.p === 'S'"}, {"lookup": "m", "from": {"data": {"name": "methods"}, "key": "m", "fields": ["name"]}}],
   "mark": {"type": "line", "strokeWidth": 1.5},
   "encoding": {
     "x": {"field": "x", "type": "quantitative", "scale": {"domain": [-0.01, 1.01], "nice": false, "zero": false},
       "axis": {"orient": "bottom", "values": [0,0.05,0.1,0.15,0.2,0.25,0.3,0.35,0.4,0.45,0.5,0.55,0.6,0.65,0.7,0.75,0.8,0.85,0.9,0.95,1], "labelExpr": "abs(datum.value*5-round(datum.value*5))<0.001 ? format(datum.value, '.1f') : ''", "tickSize": {"condition": {"test": "abs(datum.value*5-round(datum.value*5))<0.001", "value": -5}, "value": -2.5}, "grid": true, "gridOpacity": {"condition": {"test": "abs(datum.value*5-round(datum.value*5))<0.001", "value": 1}, "value": 0}, "labelPadding": 9, "title": "FPR", "titlePadding": 1}},
     "y": {"field": "y", "type": "quantitative", "scale": {"domain": [-0.01, 1.01], "nice": false, "zero": false},
       "axis": {"orient": "left", "values": [0,0.05,0.1,0.15,0.2,0.25,0.3,0.35,0.4,0.45,0.5,0.55,0.6,0.65,0.7,0.75,0.8,0.85,0.9,0.95,1], "labelExpr": "abs(datum.value*5-round(datum.value*5))<0.001 ? format(datum.value, '.1f') : ''", "tickSize": {"condition": {"test": "abs(datum.value*5-round(datum.value*5))<0.001", "value": -5}, "value": -2.5}, "grid": true, "gridOpacity": {"condition": {"test": "abs(datum.value*5-round(datum.value*5))<0.001", "value": 1}, "value": 0}, "labelPadding": 10, "title": "TPR", "titlePadding": 11}},
     "color": {"field": "name", "type": "nominal", "title": null, "scale": {"domain": ["Angle-based Outlier Detector (ABOD)", "Cluster-based Local Outlier Factor (CBLOF)", "Feature Bagging", "Histogram-base Outlier Detection (HBOS)", "Isolation Forest", "K Nearest Neighbors (KNN)", "Average KNN", "Local Outlier Factor (LOF)", "Minimum Covariance Determinant (MCD)", "One-class SVM (OCSVM)", "Principal Component Analysis (PCA)"], "range": ["#1f77b4", "#ff7f0e", "#2ca02c", "#d62728", "#9467bd", "#8c564b", "#e377c2", "#7f7f7f", "#bcbd22", "#fa8072", "#17becf"]}},
     "order": {"value": null}
   }},
  {"data": {"name": "box"},
   "mark": {"type": "rect", "fill": "white", "fillOpacity": 0, "stroke": "#808080", "strokeWidth": 2},
   "encoding": {
     "x": {"field": "x0", "type": "quantitative", "scale": {"domain": [-0.01, 1.01], "nice": false, "zero": false},
       "axis": {"orient": "top", "values": [0,0.05,0.1,0.15,0.2,0.25,0.3,0.35,0.4,0.45,0.5,0.55,0.6,0.65,0.7,0.75,0.8,0.85,0.9,0.95,1], "labels": false, "tickSize": {"condition": {"test": "abs(datum.value*5-round(datum.value*5))<0.001", "value": -5}, "value": -2.5}, "grid": false, "title": null}},
     "x2": {"field": "x1"},
     "y": {"field": "y0", "type": "quantitative", "scale": {"domain": [-0.01, 1.01], "nice": false, "zero": false},
       "axis": {"orient": "right", "values": [0,0.05,0.1,0.15,0.2,0.25,0.3,0.35,0.4,0.45,0.5,0.55,0.6,0.65,0.7,0.75,0.8,0.85,0.9,0.95,1], "labels": false, "tickSize": {"condition": {"test": "abs(datum.value*5-round(datum.value*5))<0.001", "value": -5}, "value": -2.5}, "grid": false, "title": null}},
     "y2": {"field": "y1"}
   }},
  {"data": {"name": "conn"},
   "mark": {"type": "rule", "stroke": "#808080", "strokeWidth": 2},
   "encoding": {
     "x": {"field": "x0", "type": "quantitative", "scale": {"domain": [-0.01, 1.01], "nice": false, "zero": false}, "axis": null},
     "x2": {"field": "x1"},
     "y": {"field": "y0", "type": "quantitative", "scale": {"domain": [-0.01, 1.01], "nice": false, "zero": false}, "axis": null},
     "y2": {"field": "y1"}
   }},
  {"data": {"name": "box"},
   "mark": {"type": "rect", "fill": "white", "stroke": "black", "strokeWidth": 1},
   "encoding": {
     "x": {"field": "x0", "type": "quantitative", "scale": {"domain": [-0.01, 0.05], "range": [102.9, 308.7], "nice": false, "zero": false},
       "axis": {"orient": "bottom", "offset": -33.8, "zindex": 1, "values": [-0.01,-0.008,-0.006,-0.004,-0.002,0,0.002,0.004,0.006,0.008,0.01,0.012,0.014,0.016,0.018,0.02,0.022,0.024,0.026,0.028,0.03,0.032,0.034,0.036,0.038,0.04,0.042,0.044,0.046,0.048,0.05], "labelExpr": "abs(datum.value*50-round(datum.value*50))<0.001 ? format(datum.value, '.2f') : ''", "tickSize": {"condition": {"test": "abs(datum.value*50-round(datum.value*50))<0.001", "value": -5}, "value": -2.5}, "grid": true, "gridOpacity": {"condition": {"test": "abs(datum.value*50-round(datum.value*50))<0.001", "value": 1}, "value": 0}, "labelPadding": 11, "title": null}},
     "x2": {"field": "x1"},
     "y": {"field": "y0", "type": "quantitative", "scale": {"domain": [0.95, 1.01], "range": [304.2, 101.4], "nice": false, "zero": false},
       "axis": {"orient": "left", "offset": -102.9, "zindex": 1, "values": [0.95,0.952,0.954,0.956,0.958,0.96,0.962,0.964,0.966,0.968,0.97,0.972,0.974,0.976,0.978,0.98,0.982,0.984,0.986,0.988,0.99,0.992,0.994,0.996,0.998,1,1.002,1.004,1.006,1.008,1.01], "labelExpr": "abs(datum.value*100-round(datum.value*100))<0.001 ? format(datum.value, '.2f') : ''", "tickSize": {"condition": {"test": "abs(datum.value*100-round(datum.value*100))<0.001", "value": -5}, "value": -2.5}, "grid": true, "gridOpacity": {"condition": {"test": "abs(datum.value*100-round(datum.value*100))<0.001", "value": 1}, "value": 0}, "labelPadding": 11, "title": null}},
     "y2": {"field": "y1"}
   }},
  {"data": {"name": "roc"},
   "transform": [{"filter": "datum.p === 'S' && datum.x <= 0.0501 && datum.y >= 0.9499"}, {"lookup": "m", "from": {"data": {"name": "methods"}, "key": "m", "fields": ["name"]}}],
   "mark": {"type": "line", "strokeWidth": 2.2},
   "encoding": {
     "x": {"field": "x", "type": "quantitative", "scale": {"domain": [-0.01, 0.05], "range": [102.9, 308.7], "nice": false, "zero": false},
       "axis": {"orient": "top", "offset": -101.4, "zindex": 1, "values": [-0.01,-0.008,-0.006,-0.004,-0.002,0,0.002,0.004,0.006,0.008,0.01,0.012,0.014,0.016,0.018,0.02,0.022,0.024,0.026,0.028,0.03,0.032,0.034,0.036,0.038,0.04,0.042,0.044,0.046,0.048,0.05], "labels": false, "tickSize": {"condition": {"test": "abs(datum.value*50-round(datum.value*50))<0.001", "value": -5}, "value": -2.5}, "grid": false, "title": null}},
     "y": {"field": "y", "type": "quantitative", "scale": {"domain": [0.95, 1.01], "range": [304.2, 101.4], "nice": false, "zero": false},
       "axis": {"orient": "right", "offset": -34.3, "zindex": 1, "values": [0.95,0.952,0.954,0.956,0.958,0.96,0.962,0.964,0.966,0.968,0.97,0.972,0.974,0.976,0.978,0.98,0.982,0.984,0.986,0.988,0.99,0.992,0.994,0.996,0.998,1,1.002,1.004,1.006,1.008,1.01], "labels": false, "tickSize": {"condition": {"test": "abs(datum.value*100-round(datum.value*100))<0.001", "value": -5}, "value": -2.5}, "grid": false, "title": null}},
     "color": {"field": "name", "type": "nominal", "title": null, "scale": {"domain": ["Angle-based Outlier Detector (ABOD)", "Cluster-based Local Outlier Factor (CBLOF)", "Feature Bagging", "Histogram-base Outlier Detection (HBOS)", "Isolation Forest", "K Nearest Neighbors (KNN)", "Average KNN", "Local Outlier Factor (LOF)", "Minimum Covariance Determinant (MCD)", "One-class SVM (OCSVM)", "Principal Component Analysis (PCA)"], "range": ["#1f77b4", "#ff7f0e", "#2ca02c", "#d62728", "#9467bd", "#8c564b", "#e377c2", "#7f7f7f", "#bcbd22", "#fa8072", "#17becf"]}},
     "order": {"value": null}
   }}
 ]
}
]
}
